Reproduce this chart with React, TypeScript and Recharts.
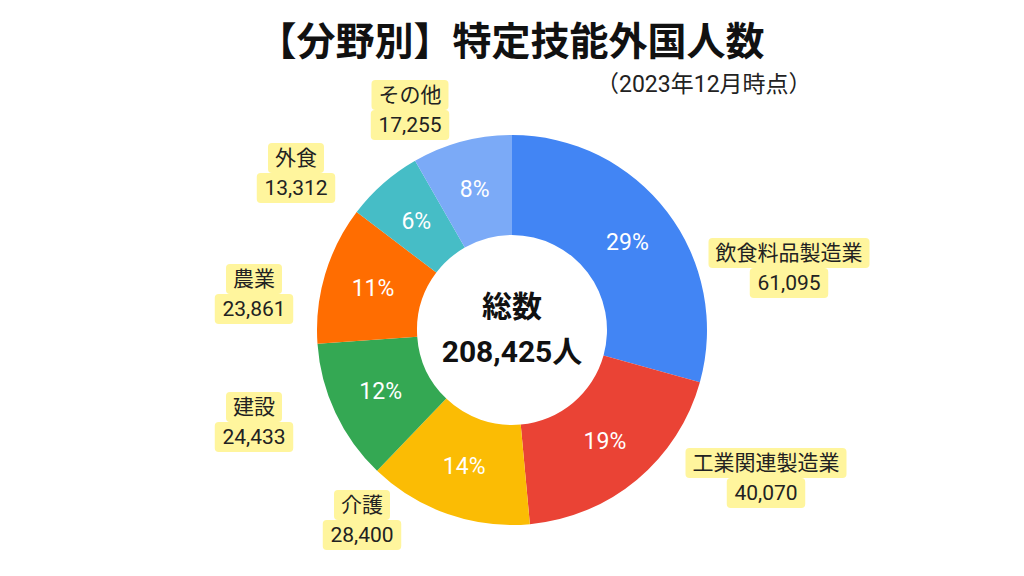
import React from 'react';
import { PieChart, Pie, Cell } from 'recharts';

const categories = ['飲食料品製造業', '工業関連製造業', '介護', '建設', '農業', '外食', 'その他'];
const counts = [61095, 40070, 28400, 24433, 23861, 13312, 17255];
const totalLabel = '208,425人';

const COLORS = ['#4285F4', '#EA4335', '#FBBC04', '#34A853', '#FF6D01', '#46BDC6', '#7BAAF7'];

// where each callout sits, relative to the pie centre
const LABEL_POS: [number, number][] = [
  [277, -62],
  [254, 148],
  [-150, 190],
  [-258, 92],
  [-258, -36],
  [-216, -157],
  [-102, -220],
];

const data = categories.map((name, i) => ({ name, value: counts[i] }));

const FONT = "Roboto, 'Noto Sans CJK JP', sans-serif";
const RAD = Math.PI / 180;

// rough text width so the yellow boxes fit
const textWidth = (s: string, fs: number) => {
  let w = 0;
  for (const ch of s) {
    const c = ch.charCodeAt(0);
    if (c > 0x2e80) w += fs;
    else if (ch === ',') w += fs * 0.26;
    else w += fs * 0.562;
  }
  return w;
};

const Tag = ({ x, y, text }: { x: number; y: number; text: string }) => {
  const fs = 21;
  const w = textWidth(text, fs) + 14;
  const h = 30;
  return (
    <g>
      <rect x={x - w / 2} y={y - h / 2} width={w} height={h} rx={4} fill="#FFF59D" />
      <text x={x} y={y} textAnchor="middle" dominantBaseline="central" fontSize={fs} fill="#222" fontFamily={FONT}>
        {text}
      </text>
    </g>
  );
};

const renderLabel = (props: any) => {
  const { cx, cy, midAngle, innerRadius, outerRadius, percent, index, name, value } = props;
  const r = (innerRadius + outerRadius) / 2;
  const px = cx + r * Math.cos(-midAngle * RAD);
  const py = cy + r * Math.sin(-midAngle * RAD);
  const [dx, dy] = LABEL_POS[index];
  const lx = cx + dx;
  const ly = cy + dy;
  return (
    <g>
      <text x={px} y={py} textAnchor="middle" dominantBaseline="central" fill="#fff" fontSize={23} fontFamily={FONT}>
        {`${Math.round(percent * 100)}%`}
      </text>
      <Tag x={lx} y={ly - 15} text={name} />
      <Tag x={lx} y={ly + 15} text={value.toLocaleString('en-US')} />
      {index === 0 && (
        <g>
          <text x={cx} y={cy - 24} textAnchor="middle" dominantBaseline="central" fontSize={30} fontWeight="bold" fill="#111" fontFamily={FONT}>
            総数
          </text>
          <text x={cx} y={cy + 21} textAnchor="middle" dominantBaseline="central" fontSize={30} fontWeight="bold" fill="#111" fontFamily={FONT}>
            {totalLabel}
          </text>
        </g>
      )}
    </g>
  );
};

export default function App() {
  return (
    <div style={{ position: 'fixed', left: 0, top: 0, width: 1024, height: 576, background: '#fff', fontFamily: FONT }}>
      <div style={{ position: 'absolute', left: 0, top: 14, width: 1022, textAlign: 'center', fontSize: 39, fontWeight: 'bold', color: '#111', lineHeight: '56px' }}>
        【分野別】特定技能外国人数
      </div>
      <div style={{ position: 'absolute', left: 596, top: 69, fontSize: 23, color: '#222', lineHeight: '32px' }}>
        （2023年12月時点）
      </div>
      <PieChart width={1024} height={576} margin={{ top: 0, right: 0, bottom: 0, left: 0 }} style={{ position: 'absolute', left: 0, top: 0 }}>
        <Pie
          data={data}
          dataKey="value"
          nameKey="name"
          cx={512}
          cy={330}
          innerRadius={95}
          outerRadius={195}
          startAngle={90}
          endAngle={-270}
          stroke="none"
          label={renderLabel}
          labelLine={false}
          isAnimationActive={false}
        >
          {data.map((d, i) => (
            <Cell key={d.name} fill={COLORS[i]} />
          ))}
        </Pie>
      </PieChart>
    </div>
  );
}
